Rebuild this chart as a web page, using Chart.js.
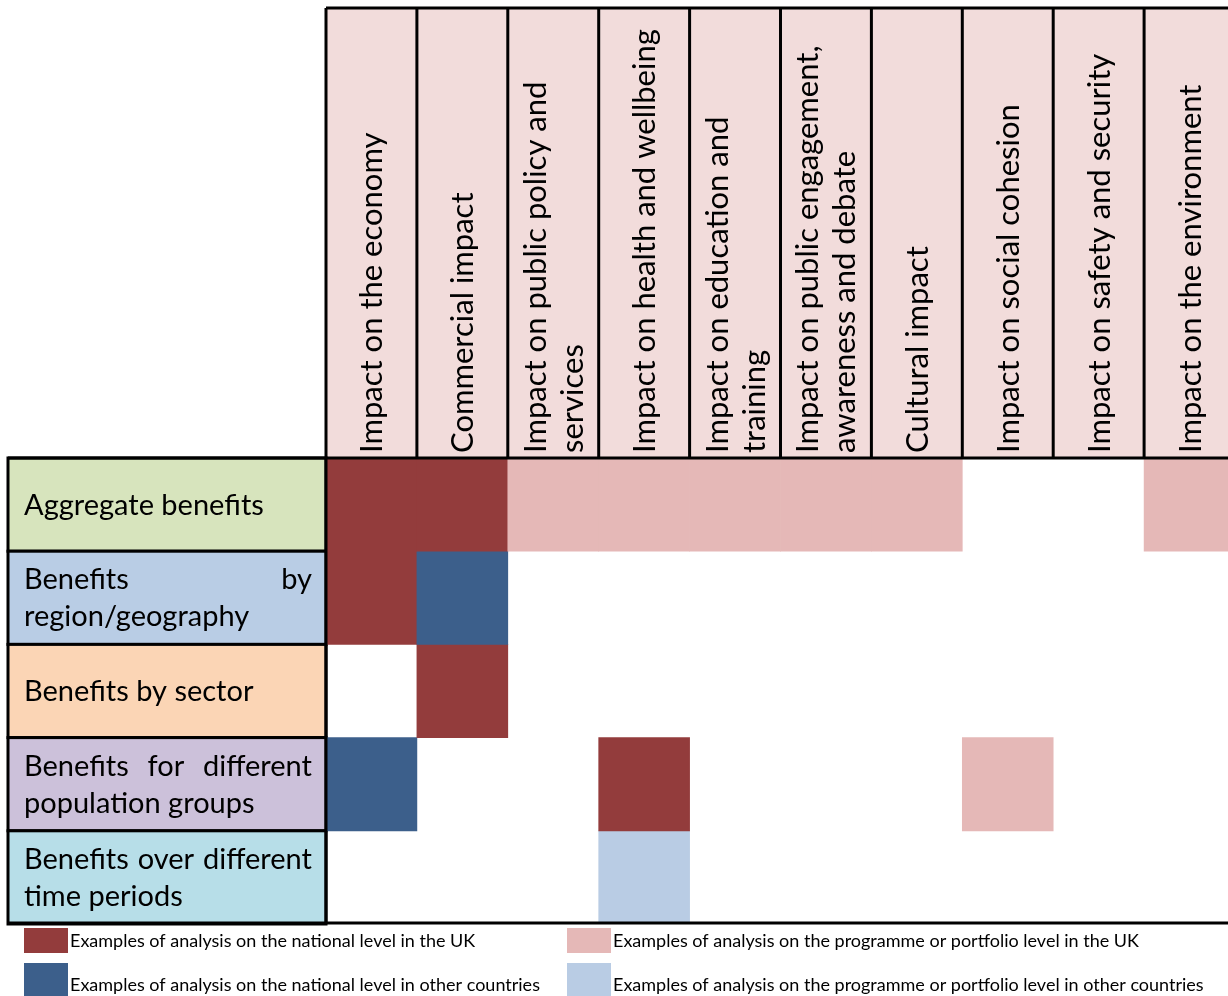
<!DOCTYPE html>
<html>
<head>
<meta charset="utf-8">
<script src="https://cdn.jsdelivr.net/npm/chart.js@4.4.1/dist/chart.umd.min.js"></script>
<style>
  html, body { margin: 0; padding: 0; background: #fff; overflow: hidden; }
  canvas { display: block; }
</style>
</head>
<body>
<canvas id="grid" width="1236" height="996"></canvas>
<script>
// impact types across the top (one column each, split into lines)
const impactLabels = [
  ['Impact on the economy'],
  ['Commercial impact'],
  ['Impact on public policy and', 'services'],
  ['Impact on health and wellbeing'],
  ['Impact on education and', 'training'],
  ['Impact on public engagement,', 'awareness and debate'],
  ['Cultural impact'],
  ['Impact on social cohesion'],
  ['Impact on safety and security'],
  ['Impact on the environment']
];

// benefit breakdowns down the side
const benefitLabels = [
  ['Aggregate benefits'],
  ['Benefits by', 'region/geography'],
  ['Benefits by sector'],
  ['Benefits for different', 'population groups'],
  ['Benefits over different', 'time periods']
];
const benefitColors = ['#d7e4bd', '#b9cde5', '#fbd5b5', '#ccc1da', '#b7dee8'];

// what kind of example exists in each cell, null = none
// N national level UK, n national level other countries
// P programme/portfolio UK, p programme/portfolio other countries
const aggregateCells  = ['N', 'N', 'P', 'P', 'P', 'P', 'P', null, null, 'P'];
const regionCells     = ['N', 'n', null, null, null, null, null, null, null, null];
const sectorCells     = [null, 'N', null, null, null, null, null, null, null, null];
const populationCells = ['n', null, null, 'N', null, null, null, 'P', null, null];
const timeCells       = [null, null, null, 'p', null, null, null, null, null, null];

const legendCodes = ['N', 'n', 'P', 'p'];
const legendLabels = [
  'Examples of analysis on the national level in the UK',
  'Examples of analysis on the national level in other countries',
  'Examples of analysis on the programme or portfolio level in the UK',
  'Examples of analysis on the programme or portfolio level in other countries'
];
const levelColors = { N: '#933c3c', n: '#3c5f8b', P: '#e5b8b7', p: '#b9cce4' };

const rows = [aggregateCells, regionCells, sectorCells, populationCells, timeCells];

const datasets = rows.map((cells, r) => ({
  label: benefitLabels[r].join(' '),
  data: cells.map(c => (c ? [r, r + 1] : null)),
  backgroundColor: cells.map(c => (c ? levelColors[c] : 'rgba(0,0,0,0)')),
  grouped: false,
  barPercentage: 1,
  categoryPercentage: 1,
  borderWidth: 0
}));

const HEADER_TOP = 8;
const LABEL_LEFT = 8;

function drawJustified(ctx, text, left, right, baseline, justify) {
  const words = text.split(' ');
  if (!justify || words.length < 2) {
    ctx.fillText(text, left, baseline);
    return;
  }
  const total = words.reduce((s, w) => s + ctx.measureText(w).width, 0);
  const gap = (right - left - total) / (words.length - 1);
  let px = left;
  words.forEach(w => {
    ctx.fillText(w, px, baseline);
    px += ctx.measureText(w).width + gap;
  });
}

const tablePlugin = {
  id: 'table',
  beforeDatasetsDraw(chart) {
    const { ctx, chartArea, scales: { x, y } } = chart;
    const colW = (chartArea.right - chartArea.left) / impactLabels.length;
    ctx.save();

    // header band
    ctx.fillStyle = '#f2dcdb';
    ctx.fillRect(chartArea.left, HEADER_TOP, chartArea.right - chartArea.left, chartArea.top - HEADER_TOP);

    ctx.fillStyle = '#000';
    ctx.font = '31px Lato';
    ctx.textAlign = 'left';
    ctx.textBaseline = 'alphabetic';
    impactLabels.forEach((lines, i) => {
      const cx = x.getPixelForValue(i);
      lines.forEach((line, j) => {
        const lx = cx + 11 + (j - (lines.length - 1) / 2) * 37;
        ctx.save();
        ctx.translate(lx, chartArea.top - 5);
        ctx.rotate(-Math.PI / 2);
        ctx.fillText(line, 0, 0);
        ctx.restore();
      });
    });

    ctx.strokeStyle = '#000';
    ctx.lineWidth = 3;
    ctx.beginPath();
    ctx.moveTo(chartArea.left, HEADER_TOP);
    ctx.lineTo(chartArea.right, HEADER_TOP);
    for (let i = 0; i <= impactLabels.length; i++) {
      const bx = chartArea.left + i * colW;
      ctx.moveTo(bx, HEADER_TOP);
      ctx.lineTo(bx, chartArea.top);
    }
    ctx.stroke();

    // benefit label boxes
    ctx.font = '29px Lato';
    benefitLabels.forEach((lines, r) => {
      const y0 = y.getPixelForValue(r);
      const y1 = y.getPixelForValue(r + 1);
      ctx.fillStyle = benefitColors[r];
      ctx.fillRect(LABEL_LEFT, y0, chartArea.left - LABEL_LEFT, y1 - y0);
      ctx.fillStyle = '#000';
      const mid = (y0 + y1) / 2;
      lines.forEach((line, j) => {
        const base = mid + 10 + (j - (lines.length - 1) / 2) * 37;
        drawJustified(ctx, line, 24, 312, base, j < lines.length - 1);
      });
      ctx.beginPath();
      ctx.strokeRect(LABEL_LEFT, y0, chartArea.left - LABEL_LEFT, y1 - y0);
    });
    ctx.restore();
  },
  afterDatasetsDraw(chart) {
    const { ctx, chartArea } = chart;
    ctx.save();
    ctx.strokeStyle = '#000';
    ctx.lineWidth = 3;
    ctx.beginPath();
    ctx.moveTo(LABEL_LEFT, chartArea.top);
    ctx.lineTo(chartArea.right, chartArea.top);
    ctx.moveTo(chartArea.left, chartArea.top);
    ctx.lineTo(chartArea.left, chartArea.bottom);
    ctx.moveTo(LABEL_LEFT, chartArea.bottom - 1);
    ctx.lineTo(chart.width, chartArea.bottom - 1);
    ctx.stroke();

    // legend, two columns of two
    ctx.font = '18px Lato';
    ctx.textAlign = 'left';
    ctx.textBaseline = 'alphabetic';
    legendCodes.forEach((code, k) => {
      const colX = k < 2 ? 24 : 567;
      const top = k % 2 === 0 ? 928 : 963;
      const h = k % 2 === 0 ? 25 : 33;
      ctx.fillStyle = levelColors[code];
      ctx.fillRect(colX, top, 44, h);
      ctx.fillStyle = '#000';
      ctx.fillText(legendLabels[k], colX + 46, k % 2 === 0 ? 947 : 991);
    });
    ctx.restore();
  }
};

new Chart(document.getElementById('grid'), {
  type: 'bar',
  data: { labels: impactLabels.map(l => l.join(' ')), datasets },
  options: {
    responsive: false,
    animation: false,
    layout: { padding: { left: 326, right: 1, top: 458, bottom: 72 } },
    scales: {
      x: { display: false },
      y: { display: false, min: 0, max: 5, reverse: true }
    },
    plugins: {
      legend: { display: false },
      tooltip: { enabled: false }
    }
  },
  plugins: [tablePlugin]
});
</script>
</body>
</html>
